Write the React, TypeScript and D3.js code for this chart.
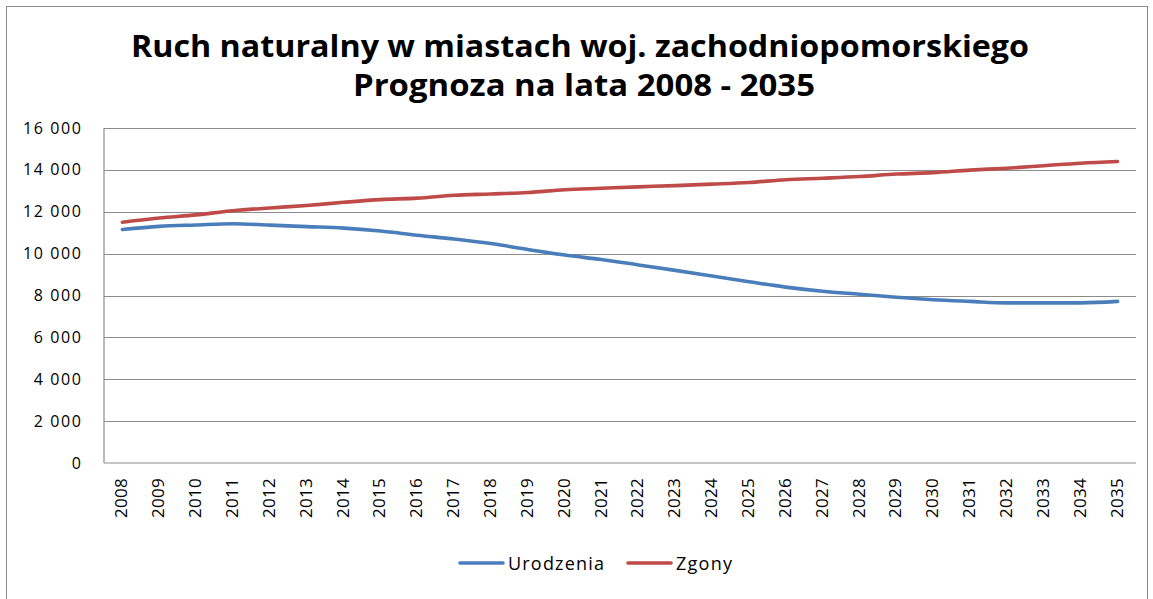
import React from "react";
import * as d3 from "d3";

const years: string[] = [
  "2008","2009","2010","2011","2012","2013","2014","2015","2016","2017",
  "2018","2019","2020","2021","2022","2023","2024","2025","2026","2027",
  "2028","2029","2030","2031","2032","2033","2034","2035",
];
const urodzenia: number[] = [
  11150, 11300, 11370, 11430, 11360, 11290, 11220, 11080, 10880, 10700,
  10480, 10200, 9930, 9720, 9460, 9200, 8930, 8660, 8400, 8200,
  8060, 7920, 7800, 7720, 7650, 7650, 7650, 7720,
];
const zgony: number[] = [
  11500, 11700, 11850, 12050, 12180, 12300, 12450, 12580, 12650, 12790,
  12850, 12920, 13050, 13120, 13190, 13250, 13320, 13400, 13530, 13600,
  13680, 13800, 13870, 13990, 14080, 14200, 14320, 14400,
];
const yTicks: number[] = [0, 2000, 4000, 6000, 8000, 10000, 12000, 14000, 16000];
const titleLines: string[] = [
  "Ruch naturalny w miastach woj. zachodniopomorskiego",
  "Prognoza na lata 2008 - 2035",
];
const seriesNames: string[] = ["Urodzenia", "Zgony"];
const seriesColors: string[] = ["#4A7EBB", "#BE4B48"];

const W = 1153;
const H = 599;
const plot = { left: 104, right: 1136, top: 128, bottom: 463 };
const FONT = "'Open Sans', 'Noto Sans', sans-serif";

const titleLayout = [
  { cx: 580, y: 57, len: 898 },
  { cx: 584, y: 96, len: 462 },
];
const legendLayout = [
  { x: 460, len: 96 },
  { x: 628, len: 56 },
];

export default function App() {
  const x = d3
    .scaleBand<string>()
    .domain(years)
    .range([plot.left, plot.right]);
  const y = d3.scaleLinear().domain([0, 16000]).range([plot.bottom, plot.top]);
  const fmt = (v: number) => d3.format(",")(v).replace(/,/g, " ");
  const line = d3
    .line<number>()
    .x((_, i) => (x(years[i]) as number) + x.bandwidth() / 2)
    .y((d) => y(d))
    .curve(d3.curveMonotoneX);
  const series = [urodzenia, zgony];

  return (
    <svg
      width={W}
      height={H}
      style={{ position: "absolute", left: 0, top: 0, background: "#fff" }}
    >
      <rect x={6.5} y={6.5} width={1141} height={620} fill="#fff" stroke="#8c8c8c" strokeWidth={1} />
      {titleLines.map((t, i) => (
        <text
          key={i}
          x={titleLayout[i].cx - titleLayout[i].len / 2}
          y={titleLayout[i].y}
          textLength={titleLayout[i].len}
          lengthAdjust="spacingAndGlyphs"
          fontFamily={FONT}
          fontWeight="bold"
          fontSize={30}
          fill="#000"
        >
          {t}
        </text>
      ))}
      {yTicks.map((t) => (
        <g key={t}>
          {t > 0 && (
            <line
              x1={plot.left}
              x2={plot.right}
              y1={Math.round(y(t)) + 0.5}
              y2={Math.round(y(t)) + 0.5}
              stroke="#8c8c8c"
              strokeWidth={1.2}
            />
          )}
          <text
            x={82.5}
            y={y(t) + 5.5}
            textAnchor="end"
            fontFamily={FONT}
            fontSize={16}
            letterSpacing={1.6}
            fill="#000"
          >
            {fmt(t)}
          </text>
        </g>
      ))}
      <line x1={plot.left} x2={plot.left} y1={plot.top} y2={plot.bottom} stroke="#8c8c8c" strokeWidth={1.2} />
      <line x1={plot.left} x2={plot.right} y1={plot.bottom} y2={plot.bottom} stroke="#8c8c8c" strokeWidth={1.2} />
      {years.map((yr) => {
        const cx = (x(yr) as number) + x.bandwidth() / 2;
        return (
          <text
            key={yr}
            transform={`translate(${cx + 5},${plot.bottom + 15}) rotate(-90)`}
            textAnchor="end"
            fontFamily={FONT}
            fontSize={17}
            letterSpacing={0.3}
            fill="#000"
          >
            {yr}
          </text>
        );
      })}
      {series.map((s, i) => (
        <path
          key={i}
          d={line(s) as string}
          fill="none"
          stroke={seriesColors[i]}
          strokeWidth={3.6}
          strokeLinecap="round"
          strokeLinejoin="round"
        />
      ))}
      {seriesNames.map((n, i) => {
        const lx = legendLayout[i].x;
        return (
          <g key={n}>
            <line x1={lx} x2={lx + 43} y1={563} y2={563} stroke={seriesColors[i]} strokeWidth={3.6} strokeLinecap="round" />
            <text
              x={lx + 48}
              y={569.5}
              textLength={legendLayout[i].len}
              lengthAdjust="spacing"
              fontFamily={FONT}
              fontSize={18}
              fill="#000"
            >
              {n}
            </text>
          </g>
        );
      })}
    </svg>
  );
}
